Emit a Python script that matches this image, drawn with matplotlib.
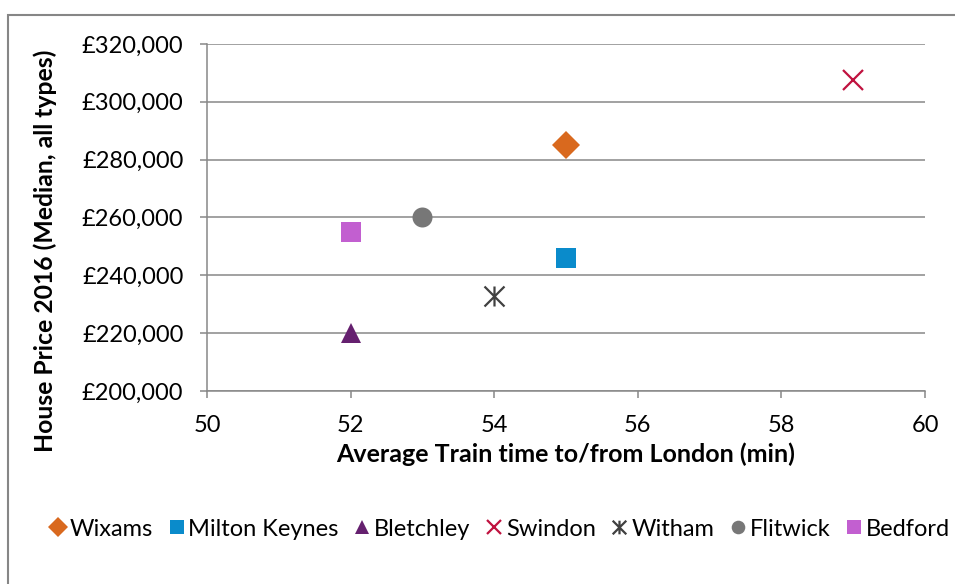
import matplotlib
matplotlib.use('Agg')
import matplotlib.pyplot as plt
from matplotlib.patches import Rectangle
from matplotlib.path import Path
from matplotlib.ticker import FuncFormatter

plt.rcParams['font.family'] = ['Lato', 'DejaVu Sans']

# Data
towns = ['Wixams', 'Milton Keynes', 'Bletchley', 'Swindon', 'Witham', 'Flitwick', 'Bedford']
train_time = [55, 55, 52, 59, 54, 53, 52]
house_price = [285000, 246000, 220000, 307500, 233000, 260000, 255000]

colours = ['#D9691E', '#0A8BCB', '#65206F', '#C0123F', '#404040', '#777777', '#C25FD0']

# Excel-style "star" marker: an X with a vertical bar through it
star = Path([(0, -1), (0, 1), (-1, -1), (1, 1), (-1, 1), (1, -1)],
            [Path.MOVETO, Path.LINETO, Path.MOVETO, Path.LINETO, Path.MOVETO, Path.LINETO])
markers = ['D', 's', '^', 'x', star, 'o', 's']

fig = plt.figure(figsize=(9.55, 5.84), dpi=100)
ax = fig.add_axes([0.2168, 0.3305, 0.7518, 0.5942])

grey = '#888888'
for town, x, y, c, m in zip(towns, train_time, house_price, colours, markers):
    unfilled = m in ('x',) or isinstance(m, Path)
    ax.plot([x], [y], linestyle='none', marker=m, markersize=14.4,
            color=c, markeredgewidth=1.6 if unfilled else 0,
            markerfacecolor='none' if unfilled else c,
            label=town, zorder=3, clip_on=False)

ax.set_xlim(50, 60)
ax.set_ylim(200000, 320000)
ax.set_xticks(range(50, 61, 2))
ax.set_yticks(range(200000, 320001, 20000))
ax.yaxis.set_major_formatter(FuncFormatter(lambda v, p: '£{:,.0f}'.format(v)))

ax.grid(axis='y', color=grey, linewidth=1.1)
ax.set_axisbelow(True)
for side in ('top', 'right'):
    ax.spines[side].set_visible(False)
for side in ('left', 'bottom'):
    ax.spines[side].set_color(grey)
    ax.spines[side].set_linewidth(1.1)

ax.tick_params(axis='both', colors=grey, labelcolor='black', labelsize=17,
               length=5, width=1.1, direction='out')
ax.tick_params(axis='y', pad=12)
ax.tick_params(axis='x', pad=12)

ax.set_xlabel('Average Train time to/from London (min)', fontsize=18,
              fontweight='bold', labelpad=5)
ax.set_ylabel('House Price 2016 (Median, all types)', fontsize=17.8,
              fontweight='bold', va='center')
ax.yaxis.set_label_coords(-0.2256, 0.403)

leg = fig.legend(loc='center', bbox_to_anchor=(0.522, 0.094), ncol=7, frameon=False,
                 fontsize=17, handletextpad=0.05, columnspacing=0.55,
                 handlelength=0.9, markerscale=0.68, borderaxespad=0)

# Chart frame (cut off at right and bottom in the original)
fig.patches.append(Rectangle((8 / 955, -0.1), 1.2, 1 - 15 / 584 + 0.1,
                             transform=fig.transFigure, fill=False,
                             edgecolor='#868686', linewidth=1.5))

fig.savefig('out.png', dpi=100)
